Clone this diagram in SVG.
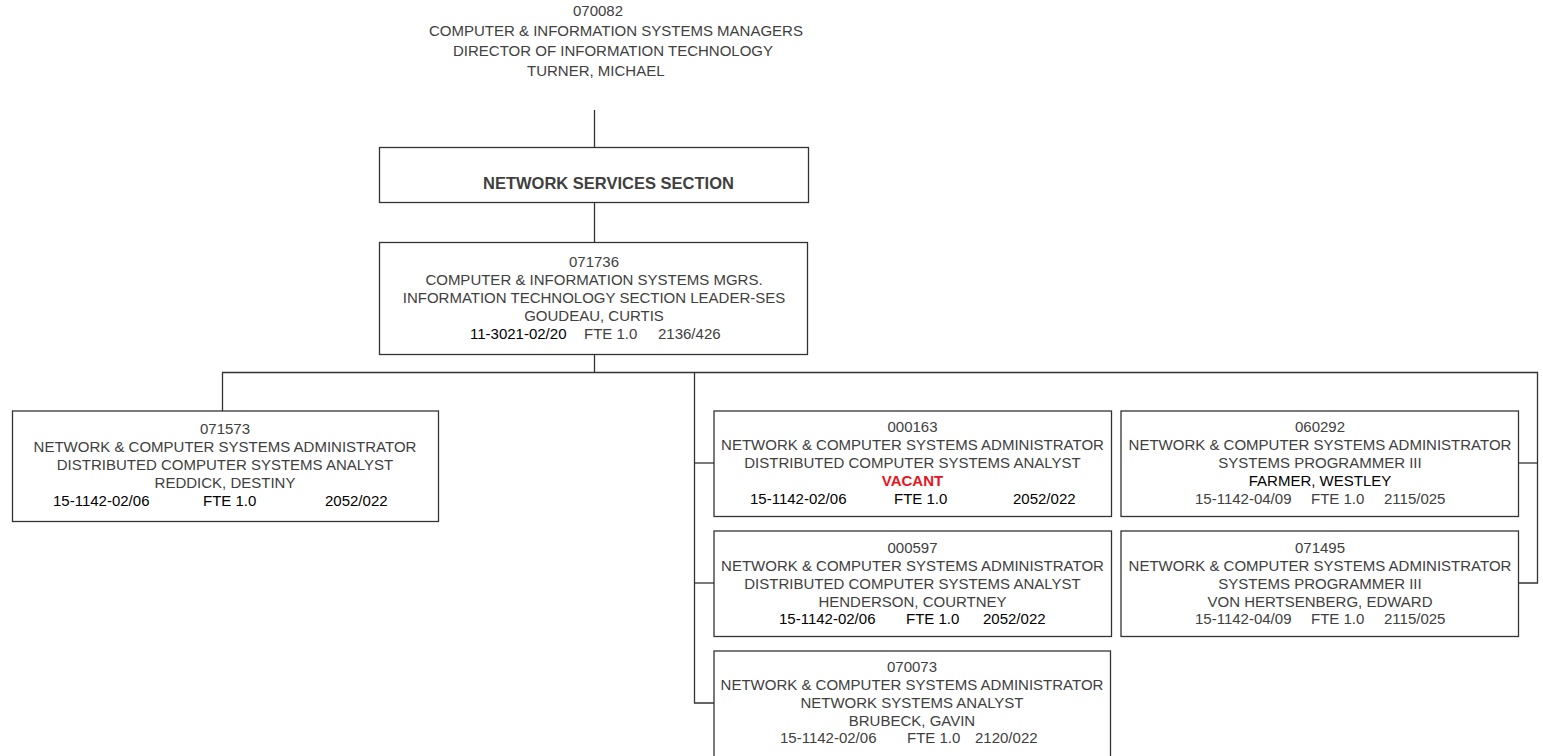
<svg xmlns="http://www.w3.org/2000/svg" width="1543" height="756" viewBox="0 0 1543 756">
  <style>
    text { font-family: "Liberation Sans", Arial, sans-serif; font-size: 15px; fill: #404040; }
    .c { text-anchor: middle; }
    .dk { fill: #000; }
    .bold { font-weight: bold; font-size: 16.5px; }
    .vac { fill: #e8141c; font-weight: bold; }
    .box { fill: #fff; stroke: #333; stroke-width: 1.3; }
    .link { fill: none; stroke: #333; stroke-width: 1.3; }
  </style>

  <!-- connectors -->
  <g id="connectors">
    <path class="link" d="M594.5 110 V147"/>
    <path class="link" d="M594.5 203 V242"/>
    <path class="link" d="M594.5 355 V372.5"/>
    <path class="link" d="M222.5 411 V372.5 H1537.5 V583 H1519"/>
    <path class="link" d="M1519 463 H1537.5"/>
    <path class="link" d="M694.5 372.5 V703 H714"/>
    <path class="link" d="M694.5 463 H714"/>
    <path class="link" d="M694.5 583 H714"/>
  </g>

  <!-- director (no box) -->
  <g id="director">
    <text x="573" y="16">070082</text>
    <text x="429" y="36">COMPUTER &amp; INFORMATION SYSTEMS MANAGERS</text>
    <text x="453" y="56">DIRECTOR OF INFORMATION TECHNOLOGY</text>
    <text x="527" y="76">TURNER, MICHAEL</text>
  </g>

  <!-- section header -->
  <g id="section">
    <rect class="box" x="379.5" y="147.5" width="429" height="55"/>
    <text class="bold" x="483" y="189">NETWORK SERVICES SECTION</text>
  </g>

  <!-- section leader -->
  <g id="leader-071736">
    <rect class="box" x="379.5" y="242.5" width="428" height="112"/>
    <text class="c" x="594" y="267">071736</text>
    <text class="c" x="594" y="285">COMPUTER &amp; INFORMATION SYSTEMS MGRS.</text>
    <text class="c" x="594" y="303">INFORMATION TECHNOLOGY SECTION LEADER-SES</text>
    <text class="c" x="594" y="321">GOUDEAU, CURTIS</text>
    <text class="dk" x="470" y="339">11-3021-02/20</text>
    <text x="584" y="339">FTE 1.0</text>
    <text x="658" y="339">2136/426</text>
  </g>

  <g id="pos-071573">
    <rect class="box" x="12.5" y="411" width="426" height="110.5"/>
    <text class="c" x="225" y="433.5">071573</text>
    <text class="c" x="225" y="451.5">NETWORK &amp; COMPUTER SYSTEMS ADMINISTRATOR</text>
    <text class="c" x="225" y="469.5">DISTRIBUTED COMPUTER SYSTEMS ANALYST</text>
    <text class="c" x="225" y="487.5">REDDICK, DESTINY</text>
    <text class="dk" x="53" y="506">15-1142-02/06</text>
    <text class="dk" x="203" y="506">FTE 1.0</text>
    <text class="dk" x="325" y="506">2052/022</text>
  </g>

  <g id="pos-000163">
    <rect class="box" x="714" y="411" width="397.5" height="105.5"/>
    <text class="c" x="912.5" y="432">000163</text>
    <text class="c" x="912.5" y="450">NETWORK &amp; COMPUTER SYSTEMS ADMINISTRATOR</text>
    <text class="c" x="912.5" y="468">DISTRIBUTED COMPUTER SYSTEMS ANALYST</text>
    <text class="c vac" x="912.5" y="486">VACANT</text>
    <text class="dk" x="750" y="503.5">15-1142-02/06</text>
    <text class="dk" x="894" y="503.5">FTE 1.0</text>
    <text class="dk" x="1013" y="503.5">2052/022</text>
  </g>

  <g id="pos-000597">
    <rect class="box" x="714" y="531" width="397.5" height="105.5"/>
    <text class="c" x="912.5" y="552.5">000597</text>
    <text class="c" x="912.5" y="570.5">NETWORK &amp; COMPUTER SYSTEMS ADMINISTRATOR</text>
    <text class="c" x="912.5" y="588.5">DISTRIBUTED COMPUTER SYSTEMS ANALYST</text>
    <text class="c" x="912.5" y="606.5">HENDERSON, COURTNEY</text>
    <text class="dk" x="779" y="624">15-1142-02/06</text>
    <text class="dk" x="906" y="624">FTE 1.0</text>
    <text class="dk" x="983" y="624">2052/022</text>
  </g>

  <g id="pos-070073">
    <rect class="box" x="714" y="651" width="396.5" height="110"/>
    <text class="c" x="912" y="671.5">070073</text>
    <text class="c" x="912" y="689.5">NETWORK &amp; COMPUTER SYSTEMS ADMINISTRATOR</text>
    <text class="c" x="912" y="707.5">NETWORK SYSTEMS ANALYST</text>
    <text class="c" x="912" y="725.5">BRUBECK, GAVIN</text>
    <text x="780" y="743">15-1142-02/06</text>
    <text x="907" y="743">FTE 1.0</text>
    <text x="975" y="743">2120/022</text>
  </g>

  <g id="pos-060292">
    <rect class="box" x="1121" y="411" width="397.5" height="105.5"/>
    <text class="c" x="1320" y="432">060292</text>
    <text class="c" x="1320" y="450">NETWORK &amp; COMPUTER SYSTEMS ADMINISTRATOR</text>
    <text class="c" x="1320" y="468">SYSTEMS PROGRAMMER III</text>
    <text class="c dk" x="1320" y="486">FARMER, WESTLEY</text>
    <text x="1195" y="503.5">15-1142-04/09</text>
    <text x="1311" y="503.5">FTE 1.0</text>
    <text x="1384" y="503.5">2115/025</text>
  </g>

  <g id="pos-071495">
    <rect class="box" x="1121" y="531" width="397.5" height="105.5"/>
    <text class="c" x="1320" y="552.5">071495</text>
    <text class="c" x="1320" y="570.5">NETWORK &amp; COMPUTER SYSTEMS ADMINISTRATOR</text>
    <text class="c" x="1320" y="588.5">SYSTEMS PROGRAMMER III</text>
    <text class="c" x="1320" y="606.5">VON HERTSENBERG, EDWARD</text>
    <text x="1195" y="624">15-1142-04/09</text>
    <text x="1311" y="624">FTE 1.0</text>
    <text x="1384" y="624">2115/025</text>
  </g>
</svg>
